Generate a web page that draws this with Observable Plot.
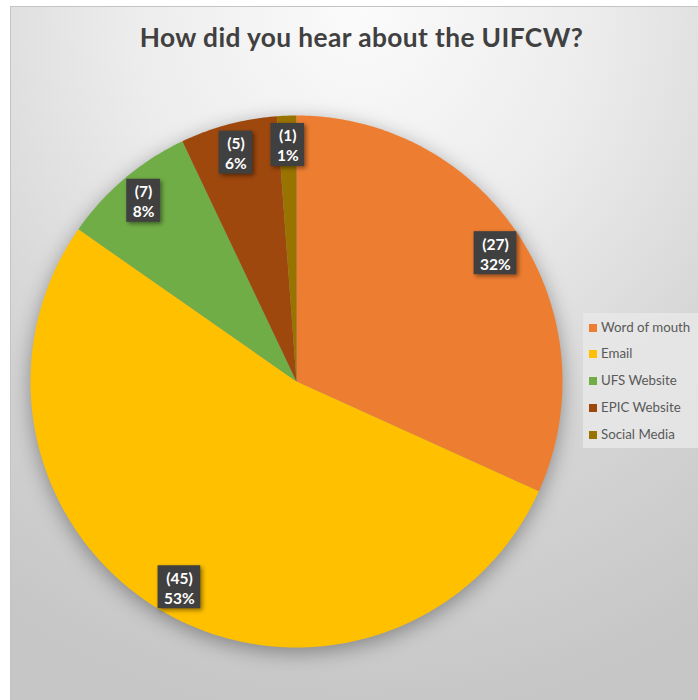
<!DOCTYPE html>
<html><head><meta charset="utf-8">
<script src="https://cdn.jsdelivr.net/npm/d3@7"></script>
<script src="https://cdn.jsdelivr.net/npm/@observablehq/plot@0.6"></script>
<style>
body{margin:0;background:#fff;}
#wrap{position:relative;width:698px;height:700px;overflow:hidden;font-family:Lato,"Open Sans",sans-serif;}
#bg{position:absolute;left:10px;top:6px;width:700px;height:710px;border:1px solid #c4c4c4;
 background:radial-gradient(ellipse 95% 100% at 50% 0%, #fbfbfb 0%, #ececec 35%, #d4d4d4 70%, #c6c6c6 100%);}
#title{position:absolute;left:18px;width:687px;top:21px;text-align:center;font-size:26.3px;font-weight:bold;color:#404040;letter-spacing:0.4px;}
#chart{position:absolute;left:0;top:0;}
#legend{position:absolute;left:583px;top:313px;width:120px;height:135px;background:rgba(232,232,232,0.85);}
.li{position:absolute;left:6px;font-size:13.3px;color:#595959;white-space:nowrap;}
.sw{display:inline-block;width:8px;height:8px;margin-right:4px;vertical-align:0px;}
</style></head>
<body>
<div id="wrap">
 <div id="bg"></div>
 <div id="title">How did you hear about the UIFCW?</div>
 <div id="chart"></div>
 <div id="legend"></div>
</div>
<script>
const categories = ["Word of mouth","Email","UFS Website","EPIC Website","Social Media"];
const counts = [27,45,7,5,1];
const percents = ["32%","53%","8%","6%","1%"];
const colors = ["#ED7D31","#FFC000","#70AD47","#9E480E","#997300"];

const cx = 296, cy = 381, R = 266, labelR = 0.89 * R;
const arcs = d3.pie().sort(null)(counts);

const pts = [];
arcs.forEach((a, i) => {
  const n = Math.max(4, Math.ceil((a.endAngle - a.startAngle) * 80));
  pts.push({cat: categories[i], x: cx, y: cy});
  for (let k = 0; k <= n; k++) {
    const t = a.startAngle + (a.endAngle - a.startAngle) * k / n;
    pts.push({cat: categories[i], x: cx + R * Math.sin(t), y: cy - R * Math.cos(t)});
  }
});

const ctx = document.createElement("canvas").getContext("2d");
ctx.font = "bold 15.5px Lato";
const labels = arcs.map((a, i) => {
  const t = (a.startAngle + a.endAngle) / 2;
  const l1 = `(${counts[i]})`, l2 = percents[i];
  const w = Math.max(ctx.measureText(l1).width, ctx.measureText(l2).width) + 12;
  const h = 43;
  const x = cx + labelR * Math.sin(t), y = cy - labelR * Math.cos(t);
  return {cat: categories[i], text: l1 + "\n" + l2, x, y, x1: x - w/2, x2: x + w/2, y1: y - h/2, y2: y + h/2};
});

const plot = Plot.plot({
  width: 698, height: 700, margin: 0,
  x: {domain: [0, 698], range: [0, 698], axis: null},
  y: {domain: [0, 700], range: [0, 700], axis: null},
  color: {domain: categories, range: colors},
  style: {background: "transparent", overflow: "visible"},
  marks: [
    Plot.line(pts, {x: "x", y: "y", z: "cat", fill: "cat", stroke: "none", curve: "linear-closed"}),
    Plot.rect(labels, {x1: "x1", x2: "x2", y1: "y1", y2: "y2", fill: "#404040"}),
    Plot.text(labels, {x: "x", y: "y", text: "text", fill: "white", fontWeight: "bold", fontSize: 15.5, lineHeight: 1.3, fontFamily: "Lato"})
  ]
});
const gs = plot.querySelectorAll("g[aria-label]");
gs.forEach(g => {
  const lab = g.getAttribute("aria-label");
  if (lab === "line") g.style.filter = "drop-shadow(0px 5px 10px rgba(0,0,0,0.35))";
  if (lab === "rect") g.style.filter = "drop-shadow(2px 2px 2px rgba(0,0,0,0.45))";
});
document.getElementById("chart").appendChild(plot);

const leg = document.getElementById("legend");
const ys = [14, 40, 67, 94, 121];
categories.forEach((c, i) => {
  const d = document.createElement("div");
  d.className = "li";
  d.style.top = (ys[i] - 8) + "px";
  d.innerHTML = `<span class="sw" style="background:${colors[i]}"></span>${c}`;
  leg.appendChild(d);
});
</script>
</body></html>
